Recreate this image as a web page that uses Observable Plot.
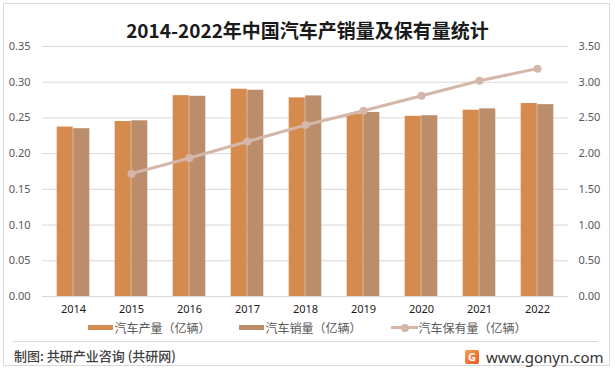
<!DOCTYPE html>
<html>
<head>
<meta charset="utf-8">
<script src="https://cdn.jsdelivr.net/npm/d3@7"></script>
<script src="https://cdn.jsdelivr.net/npm/@observablehq/plot@0.6"></script>
<style>
  html, body { margin: 0; padding: 0; background: #fff; }
  body { width: 615px; height: 371px; overflow: hidden; font-family: "Noto Sans", "Noto Sans CJK SC", sans-serif; }
  #wrap { position: relative; width: 615px; height: 371px; }
  #frame { position: absolute; left: 3px; top: 3px; width: 607px; height: 363px; border: 1px solid #d9d9d9; box-sizing: border-box; }
  #title { position: absolute; left: 0; top: 17px; width: 615px; text-align: center; font-family: "Noto Sans CJK SC", sans-serif; font-weight: bold; font-size: 19px; line-height: 26px; color: #1a1a1a; }
  #chart { position: absolute; left: 0; top: 36px; }
  #legend { position: absolute; left: 0; top: 319px; width: 615px; height: 17px; display: flex; justify-content: center; align-items: center; font-family: "Noto Sans CJK SC", sans-serif; font-size: 12px; color: #595959; }
  .item { display: flex; align-items: center; margin: 0 14.5px; }
  .sw { width: 25px; height: 5px; margin-right: 1px; }
  .ln { position: relative; width: 27px; height: 12px; margin-right: 1px; }
  .ln .bar { position: absolute; left: 0; top: 4.5px; width: 27px; height: 3px; }
  .ln .dt { position: absolute; left: 10px; top: 2px; width: 8px; height: 8px; border-radius: 50%; }
  #sep { position: absolute; left: 13px; top: 341px; width: 585px; height: 1px; background: #d9d9d9; }
  #src { position: absolute; left: 14px; top: 347px; font-family: "Noto Sans CJK SC", sans-serif; font-size: 13px; line-height: 18px; color: #404040; font-weight: 500; }
  #site { position: absolute; left: 465px; top: 348px; display: flex; align-items: center; }
  #logo { width: 14px; height: 14px; border-radius: 2px; background: linear-gradient(135deg, #f5a04a, #e8562a); color: #fff; font: bold 11px "Noto Sans", sans-serif; text-align: center; line-height: 14px; margin-right: 7px; }
  #url { font-family: "Noto Sans", sans-serif; font-size: 15px; line-height: 18px; color: #333; }
</style>
</head>
<body>
<div id="wrap">
  <div id="frame"></div>
  <div id="title">2014-2022年中国汽车产销量及保有量统计</div>
  <div id="chart"></div>
  <div id="legend"></div>
  <div id="sep"></div>
  <div id="src">制图: 共研产业咨询 (共研网)</div>
  <div id="site"><div id="logo">G</div><div id="url">www.gonyn.com</div></div>
</div>
<script>
// ---- Data ----
const years = ["2014", "2015", "2016", "2017", "2018", "2019", "2020", "2021", "2022"];
const production = [0.2372, 0.2450, 0.2812, 0.2902, 0.2781, 0.2553, 0.2523, 0.2608, 0.2702]; // 亿辆
const sales      = [0.2349, 0.2460, 0.2803, 0.2888, 0.2808, 0.2577, 0.2531, 0.2627, 0.2686]; // 亿辆
const ownershipYears = ["2015", "2016", "2017", "2018", "2019", "2020", "2021", "2022"];
const ownership  = [1.72, 1.94, 2.17, 2.40, 2.60, 2.81, 3.02, 3.19]; // 亿辆 (right axis)
const leftTicks  = [0, 0.05, 0.10, 0.15, 0.20, 0.25, 0.30, 0.35];
const rightTicks = [0, 0.5, 1.0, 1.5, 2.0, 2.5, 3.0, 3.5];
const seriesNames = ["汽车产量（亿辆）", "汽车销量（亿辆）", "汽车保有量（亿辆）"];
const colors = ["#d48b4d", "#bb8d6b", "#d5b7aa"];

// ---- Tables ----
const prodData = years.map((y, i) => ({year: y, value: production[i]}));
const salesData = years.map((y, i) => ({year: y, value: sales[i]}));
const ownData = ownershipYears.map((y, i) => ({year: y, value: ownership[i]}));
const ratio = rightTicks[rightTicks.length - 1] / leftTicks[leftTicks.length - 1]; // right axis = 10x left

const chart = Plot.plot({
  width: 615,
  height: 285,
  marginTop: 10,
  marginBottom: 25,
  marginLeft: 42,
  marginRight: 47,
  style: {fontFamily: "'Noto Sans', sans-serif", fontSize: "11px", color: "#595959", background: "transparent"},
  x: {type: "band", domain: years, padding: 0, label: null},
  y: {domain: [0, 0.35], label: null},
  marks: [
    Plot.gridY(leftTicks, {stroke: "#d9d9d9", strokeOpacity: 1, strokeWidth: 1}),
    Plot.axisY({ticks: leftTicks, tickSize: 0, tickPadding: 12, tickFormat: d => d.toFixed(2), label: null}),
    Plot.axisY({anchor: "right", ticks: rightTicks.map(t => t / ratio), tickSize: 0, tickPadding: 10,
      tickFormat: d => (d * ratio).toFixed(2), label: null}),
    Plot.axisX({tickSize: 0, tickPadding: 9, fill: "#1a1a1a", label: null}),
    Plot.barY(prodData, {x: "year", y: "value", fill: colors[0], insetLeft: 12.7, insetRight: 29.2}),
    Plot.barY(salesData, {x: "year", y: "value", fill: colors[1], insetLeft: 29.2, insetRight: 12.7}),
    Plot.lineY(ownData, {x: "year", y: d => d.value / ratio, stroke: colors[2], strokeWidth: 3}),
    Plot.dot(ownData, {x: "year", y: d => d.value / ratio, r: 4, fill: colors[2], stroke: "none"})
  ]
});
document.getElementById("chart").appendChild(chart);

// ---- Legend ----
const legend = document.getElementById("legend");
seriesNames.forEach((name, i) => {
  const item = document.createElement("div");
  item.className = "item";
  if (i < 2) {
    const sw = document.createElement("div");
    sw.className = "sw";
    sw.style.background = colors[i];
    item.appendChild(sw);
  } else {
    const ln = document.createElement("div");
    ln.className = "ln";
    ln.innerHTML = `<div class="bar" style="background:${colors[i]}"></div><div class="dt" style="background:${colors[i]}"></div>`;
    item.appendChild(ln);
  }
  const t = document.createElement("span");
  t.textContent = name;
  item.appendChild(t);
  legend.appendChild(item);
});
</script>
</body>
</html>
